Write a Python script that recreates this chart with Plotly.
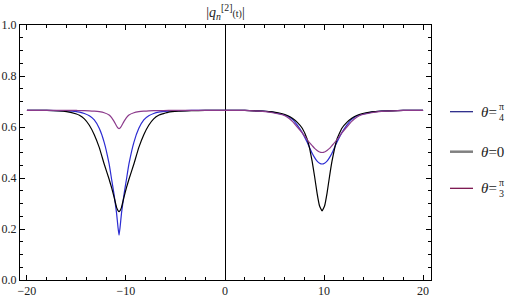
import plotly.graph_objects as go

# time samples (shared by all three curves)
t = [-20, -18, -16, -15, -14.7, -14.2, -13.7, -13.2, -12.7, -12.2, -11.7, -11.45, -11.2,
     -10.95, -10.8, -10.7, -10.6, -10.45, -10.2, -9.95, -9.7, -9.2, -8.7, -8.2, -7.7, -7.2,
     -6.7, -5.7, -4.7, -3.4, -2, 0, 2, 3.8, 4.8, 5.8, 6.3, 6.8, 7.3, 7.8, 8.3, 8.55, 8.8,
     9.05, 9.3, 9.55, 9.8, 10.05, 10.3, 10.55, 10.8, 11.3, 11.8, 12.3, 12.8, 13.3, 13.8,
     14.8, 15.8, 18, 20]

# |q_n^[2](t)| for theta = pi/4 (blue)
q_pi4 = [0.665, 0.665, 0.663, 0.660, 0.658, 0.653, 0.644, 0.628, 0.595, 0.540, 0.455, 0.395,
         0.335, 0.262, 0.205, 0.176, 0.205, 0.262, 0.335, 0.395, 0.455, 0.540, 0.595, 0.628,
         0.644, 0.653, 0.658, 0.662, 0.664, 0.665, 0.665, 0.665, 0.665, 0.662, 0.658, 0.649,
         0.643, 0.630, 0.607, 0.578, 0.540, 0.518, 0.497, 0.480, 0.466, 0.458, 0.455, 0.458,
         0.466, 0.480, 0.497, 0.540, 0.578, 0.607, 0.630, 0.643, 0.649, 0.658, 0.662, 0.665,
         0.665]

# theta = 0 (black)
q_0 = [0.665, 0.665, 0.660, 0.651, 0.646, 0.632, 0.607, 0.570, 0.520, 0.455, 0.395, 0.362,
       0.325, 0.285, 0.272, 0.268, 0.272, 0.285, 0.325, 0.362, 0.395, 0.455, 0.520, 0.570,
       0.607, 0.632, 0.646, 0.658, 0.662, 0.664, 0.665, 0.665, 0.665, 0.662, 0.659, 0.652,
       0.645, 0.634, 0.618, 0.595, 0.552, 0.515, 0.465, 0.405, 0.340, 0.290, 0.271, 0.290,
       0.340, 0.405, 0.465, 0.552, 0.595, 0.618, 0.634, 0.645, 0.652, 0.659, 0.662, 0.665,
       0.665]

# theta = pi/3 (purple)
q_pi3 = [0.665, 0.665, 0.665, 0.665, 0.664, 0.664, 0.663, 0.662, 0.660, 0.656, 0.647, 0.637,
         0.622, 0.604, 0.596, 0.594, 0.596, 0.604, 0.622, 0.637, 0.647, 0.656, 0.660, 0.662,
         0.663, 0.664, 0.664, 0.665, 0.665, 0.665, 0.665, 0.665, 0.665, 0.661, 0.656, 0.648,
         0.638, 0.622, 0.600, 0.577, 0.550, 0.538, 0.527, 0.516, 0.508, 0.502, 0.500, 0.502,
         0.508, 0.516, 0.527, 0.550, 0.577, 0.600, 0.622, 0.638, 0.648, 0.656, 0.661, 0.665,
         0.665]

x_ticks = [-20, -10, 0, 10, 20]
x_tick_text = ["−20", "−10", "0", "10", "20"]
y_ticks = [0.0, 0.2, 0.4, 0.6, 0.8, 1.0]
y_tick_text = ["0.0", "0.2", "0.4", "0.6", "0.8", "1.0"]

series = [
    ("θ=π/4", q_pi4, "#2b2bd2"),
    ("θ=0", q_0, "#000000"),
    ("θ=π/3", q_pi3, "#8b3a8b"),
]

fig = go.Figure()
for name, vals, col in series:
    fig.add_trace(go.Scatter(x=t, y=vals, mode="lines", name=name,
                             line=dict(color=col, width=1.2, shape="spline", smoothing=0.3),
                             showlegend=False, hoverinfo="skip"))

FONT = "'Liberation Serif', 'Times New Roman', Times, serif"

axis_common = dict(
    showgrid=False, showline=True, linecolor="black", linewidth=1, automargin=False,
    mirror="allticks", ticks="inside", ticklen=5, tickcolor="black", tickwidth=1,
    tickfont=dict(family=FONT, size=12, color="#222"),
)
fig.update_xaxes(range=[-20.7, 20.8], tickvals=x_ticks, ticktext=x_tick_text,
                 zeroline=True, zerolinecolor="black", zerolinewidth=1,
                 minor=dict(dtick=2, ticks="inside", ticklen=3, tickcolor="black", showgrid=False),
                 **axis_common)
fig.update_yaxes(range=[0, 1], tickvals=y_ticks, ticktext=y_tick_text, zeroline=False,
                 minor=dict(dtick=0.05, ticks="inside", ticklen=3, tickcolor="black", showgrid=False),
                 **axis_common)

# manual legend (Mathematica-like) with stacked fractions
PL, PW, PT, PH = 20, 411, 25, 255
ann = []
shapes = []
legend_rows = [
    (1 - (111.7 - PT) / PH, "#1a1a80", 1.2, "π", "4", None),
    (1 - (151.7 - PT) / PH, "#808080", 2.5, None, None, "0"),
    (1 - (188.3 - PT) / PH, "#700040", 1.2, "π", "3", None),
]
for yy, col, w, num, den, plain in legend_rows:
    shapes.append(dict(type="line", xref="paper", yref="paper",
                       x0=(450 - PL) / PW, x1=(473 - PL) / PW, y0=yy, y1=yy,
                       line=dict(color=col, width=w)))
    txt = "<i>θ</i>=" + (plain if plain else "")
    ann.append(dict(xref="paper", yref="paper", x=(479 - PL) / PW, y=yy, text=txt,
                    showarrow=False, xanchor="left", yanchor="middle",
                    font=dict(family=FONT, size=15, color="#222")))
    if num:
        ann.append(dict(xref="paper", yref="paper", x=(501 - PL) / PW, y=yy + 5.5 / PH,
                        text=num, showarrow=False, xanchor="center", yanchor="middle",
                        font=dict(family=FONT, size=10, color="#222")))
        ann.append(dict(xref="paper", yref="paper", x=(501 - PL) / PW, y=yy - 5.5 / PH,
                        text=den, showarrow=False, xanchor="center", yanchor="middle",
                        font=dict(family=FONT, size=10, color="#222")))

fig.update_layout(
    width=515, height=302,
    margin=dict(l=PL, r=515 - PL - PW, t=PT, b=302 - PT - PH, autoexpand=False),
    paper_bgcolor="white", plot_bgcolor="white",
    font=dict(family=FONT),
    title=dict(text="|<i>q<sub>n</sub></i><sup>[2]</sup><span style='font-size:10px'>(t)</span>|",
               x=0.5, xref="paper", xanchor="center", y=1 - 12 / 302, yanchor="middle",
               font=dict(family=FONT, size=14, color="#222")),
    annotations=ann, shapes=shapes,
)

fig.write_html("out.html", config={"displayModeBar": False},
               post_script="document.body.style.margin='0';document.body.style.overflow='hidden';")
